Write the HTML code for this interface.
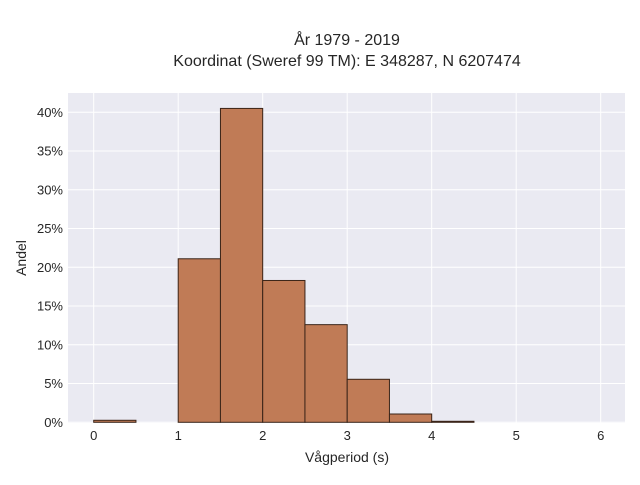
<!DOCTYPE html>
<html><head><meta charset="utf-8"><style>
body{margin:0;background:#fff;font-family:"Liberation Sans",sans-serif;}
svg text{font-family:"Liberation Sans",sans-serif;fill:#262626;}
</style></head><body>
<svg width="640" height="480" viewBox="0 0 640 480">
<text x="347" y="45" text-anchor="middle" font-size="16">År 1979 - 2019</text>
<text x="347" y="66" text-anchor="middle" font-size="16">Koordinat (Sweref 99 TM): E 348287, N 6207474</text>
<rect x="68" y="93" width="557" height="330" fill="#eaeaf2"/>
<g id="grid"></g>
<g id="bars"></g>
<g id="ticks"></g>
<text x="347" y="462" text-anchor="middle" font-size="14">Vågperiod (s)</text>
<text transform="translate(26,258) rotate(-90)" text-anchor="middle" font-size="14">Andel</text>
</svg>
<script>
const binStarts=[0,0.5,1,1.5,2,2.5,3,3.5,4];
const shares=[0.26,0,21.1,40.5,18.3,12.6,5.55,1.07,0.13];
const binWidth=0.5;
const xTicks=[0,1,2,3,4,5,6];
const yTicks=[0,5,10,15,20,25,30,35,40];
const NS="http://www.w3.org/2000/svg";
const x=v=>93.7+v*84.5;
const y=v=>422.3-v*7.75;
const grid=document.getElementById('grid'),bars=document.getElementById('bars'),ticks=document.getElementById('ticks');
function mk(tag,attrs,parent){const e=document.createElementNS(NS,tag);for(const k in attrs)e.setAttribute(k,attrs[k]);parent.appendChild(e);return e;}
xTicks.forEach(t=>{
 const l=mk('line',{x1:x(t),x2:x(t),y1:93,y2:423,stroke:'#fff','stroke-width':1},grid);
 
 
 const tx=mk('text',{x:x(t),y:440,'text-anchor':'middle','font-size':13},ticks);
 tx.textContent=t;
 
 
});
yTicks.forEach(t=>{
 const l=mk('line',{x1:68,x2:625,y1:y(t),y2:y(t),stroke:'#fff','stroke-width':1},grid);
 
 
 const tx=mk('text',{x:63,y:y(t)+4.5,'text-anchor':'end','font-size':13},ticks);
 tx.textContent=t+'%';
 
 
});
binStarts.forEach((b,i)=>{
 if(shares[i]<=0)return;
 const r=mk('rect',{x:x(b),y:y(shares[i]),width:x(b+binWidth)-x(b),height:y(0)-y(shares[i]),fill:'#c07b56',stroke:'#3a2418','stroke-width':1},bars);
 
 
});
</script>
</body></html>
